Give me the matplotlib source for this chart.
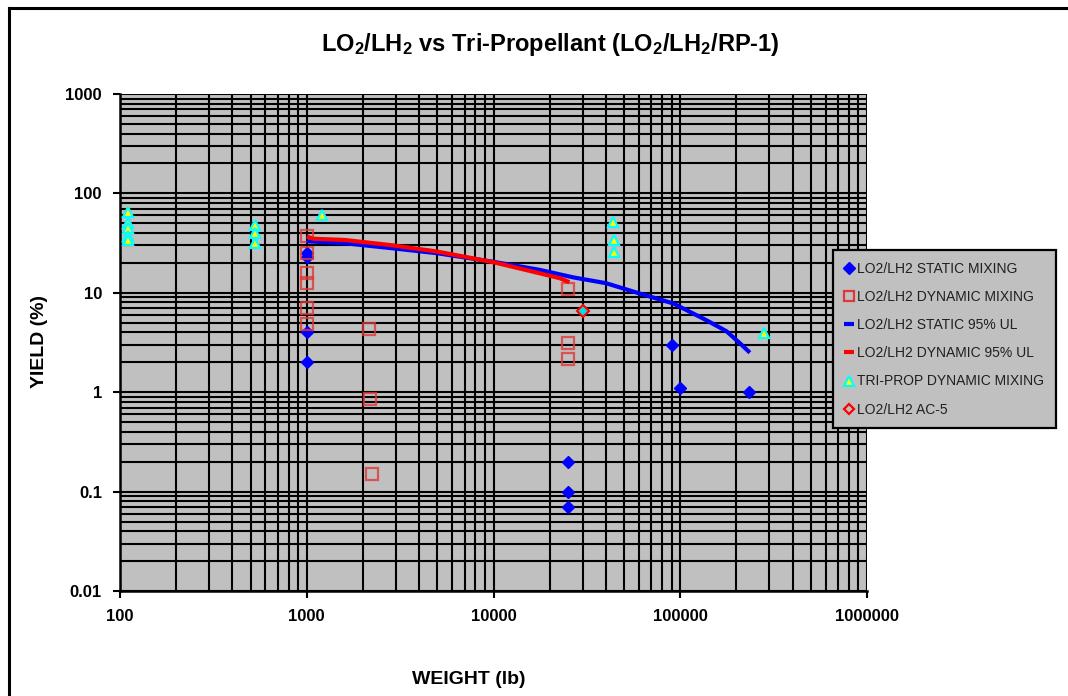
import matplotlib
matplotlib.use("Agg")
import matplotlib.pyplot as plt
from matplotlib.lines import Line2D
from matplotlib.ticker import LogLocator, FixedLocator, FixedFormatter, NullFormatter

plt.rcParams['font.family'] = ['Liberation Sans', 'DejaVu Sans']
plt.rcParams['mathtext.fontset'] = 'custom'
plt.rcParams['mathtext.rm'] = 'Liberation Sans:bold'
plt.rcParams['mathtext.bf'] = 'Liberation Sans:bold'
plt.rcParams['mathtext.default'] = 'rm'

# ---- data ----
static_w = [1000, 1000, 1000, 1000, 25000, 25000, 25000, 90000, 100000, 233000]
static_y = [25, 23, 4.0, 2.0, 0.2, 0.1, 0.07, 3.0, 1.1, 1.0]

dynamic_w = [1000, 1000, 1000, 1000, 1000, 1000, 2150, 2180, 2230, 25000, 25000, 25000]
dynamic_y = [37, 25, 16, 12.5, 7.0, 4.8, 4.3, 0.85, 0.15, 11.0, 3.1, 2.15]

static_ul_w = [1000, 1600, 2900, 5000, 10000, 17700, 26700, 40000, 60000, 92000,
               138000, 177000, 209000, 236000]
static_ul_y = [33, 31.5, 28, 25, 20.5, 17, 14.3, 12.5, 9.9, 7.8, 5.3, 4.1, 3.1, 2.5]

dynamic_ul_w = [1000, 1080, 1600, 2900, 5000, 10000, 17700, 22700, 25500]
dynamic_ul_y = [37, 35, 34, 30, 26, 20.3, 15.7, 14.0, 12.8]

triprop_w = [110, 110, 110, 110, 110, 530, 530, 530, 1200, 43500, 44000, 44000, 281000]
triprop_y = [65, 50, 45, 37, 34, 48, 40, 32, 60, 52, 34, 26, 3.9]

ac5_w = [30000]
ac5_y = [6.5]

x_ticks = [100, 1000, 10000, 100000, 1000000]
x_tick_labels = ['100', '1000', '10000', '100000', '1000000']
y_ticks = [0.01, 0.1, 1, 10, 100, 1000]
y_tick_labels = ['0.01', '0.1', '1', '10', '100', '1000']

labels = ['LO2/LH2 STATIC MIXING', 'LO2/LH2 DYNAMIC MIXING', 'LO2/LH2 STATIC 95% UL',
          'LO2/LH2 DYNAMIC 95% UL', 'TRI-PROP DYNAMIC MIXING', 'LO2/LH2 AC-5']

W, H = 1068, 696
fig = plt.figure(figsize=(W / 100, H / 100), dpi=100)
ax = fig.add_axes([120 / W, 1 - 591 / H, (867 - 120) / W, (591 - 94) / H])
ax.set_facecolor('#c0c0c0')
ax.set_xscale('log')
ax.set_yscale('log')
ax.set_xlim(100, 1e6)
ax.set_ylim(0.01, 1000)

ax.xaxis.set_major_locator(FixedLocator(x_ticks))
ax.xaxis.set_major_formatter(FixedFormatter(x_tick_labels))
ax.yaxis.set_major_locator(FixedLocator(y_ticks))
ax.yaxis.set_major_formatter(FixedFormatter(y_tick_labels))
ax.xaxis.set_minor_locator(LogLocator(base=10, subs=range(2, 10), numticks=20))
ax.yaxis.set_minor_locator(LogLocator(base=10, subs=range(2, 10), numticks=20))
ax.xaxis.set_minor_formatter(NullFormatter())
ax.yaxis.set_minor_formatter(NullFormatter())

ax.grid(True, which='both', color='black', linewidth=1.5)
ax.set_axisbelow(True)
ax.tick_params(which='major', direction='out', length=5, width=1.5, color='black',
               labelsize=12, pad=8)
ax.tick_params(which='minor', length=0)
for lab in ax.get_xticklabels() + ax.get_yticklabels():
    lab.set_fontweight('bold')
for s in ['top', 'right']:
    ax.spines[s].set_visible(False)
for s in ['left', 'bottom']:
    ax.spines[s].set_linewidth(1.8)
    ax.spines[s].set_color('black')

ax.plot(static_w, static_y, linestyle='none', marker='D', markersize=6.5,
        color='#0000ff', markeredgecolor='#0000ff', zorder=3)
ax.plot(dynamic_w, dynamic_y, linestyle='none', marker='s', markersize=9,
        markerfacecolor='none', markeredgecolor='#e03838', markeredgewidth=1.6,
        alpha=0.8, zorder=4)
ax.plot(static_ul_w, static_ul_y, color='#0000ff', linewidth=3, zorder=5,
        solid_capstyle='butt')
ax.plot(dynamic_ul_w, dynamic_ul_y, color='#ff0000', linewidth=3, zorder=5,
        solid_capstyle='butt')
ax.plot(triprop_w, triprop_y, linestyle='none', marker='^', markersize=7,
        markerfacecolor='#ffff00', markeredgecolor='#00ffff', markeredgewidth=1.6,
        zorder=6)
ax.plot(ac5_w, ac5_y, linestyle='none', marker='D', markersize=6,
        markerfacecolor='#00e0e0', markeredgecolor='#ff0000', markeredgewidth=1.5,
        zorder=6)

fig.text(550 / W, 1 - 45 / H,
         r'LO$_2$/LH$_2$ vs Tri-Propellant (LO$_2$/LH$_2$/RP-1)',
         ha='center', va='center', fontsize=17, fontweight='bold')
fig.text(40 / W, 1 - 342 / H, 'YIELD (%)', rotation=90, ha='center', va='center',
         fontsize=14, fontweight='bold')
fig.text(469 / W, 1 - 680 / H, 'WEIGHT (lb)', ha='center', va='center',
         fontsize=14, fontweight='bold')

handles = [
    Line2D([], [], linestyle='none', marker='D', markersize=6, color='#0000ff'),
    Line2D([], [], linestyle='none', marker='s', markersize=7, markerfacecolor='none',
           markeredgecolor='#e03838', markeredgewidth=1.6),
    Line2D([], [], linestyle='none', marker='_', markersize=7, markeredgewidth=3,
           color='#0000ff'),
    Line2D([], [], linestyle='none', marker='_', markersize=7, markeredgewidth=3,
           color='#ff0000'),
    Line2D([], [], linestyle='none', marker='^', markersize=7, markerfacecolor='#ffff00',
           markeredgecolor='#00ffff', markeredgewidth=1.6),
    Line2D([], [], linestyle='none', marker='D', markersize=5, markerfacecolor='#c0c0c0',
           markeredgecolor='#ff0000', markeredgewidth=1.6),
]
leg = fig.legend(handles, labels, loc='upper left',
                 bbox_to_anchor=(833 / W, 1 - 250 / H), bbox_transform=fig.transFigure,
                 fontsize=10, frameon=True, fancybox=False, facecolor='#c0c0c0',
                 edgecolor='black', framealpha=1, handlelength=0.6, handletextpad=0.3,
                 labelspacing=1.02, borderpad=0.85, borderaxespad=0)
leg.get_frame().set_linewidth(1.6)
for t in leg.get_texts():
    t.set_color('#202020')

# figure frame
fig.add_artist(Line2D([9 / W, 9 / W], [0, 1 - 8 / H], transform=fig.transFigure,
                      color='black', linewidth=2.2))
fig.add_artist(Line2D([9 / W, 1], [1 - 8 / H, 1 - 8 / H], transform=fig.transFigure,
                      color='black', linewidth=2.2))

fig.savefig('out.png', dpi=100)
